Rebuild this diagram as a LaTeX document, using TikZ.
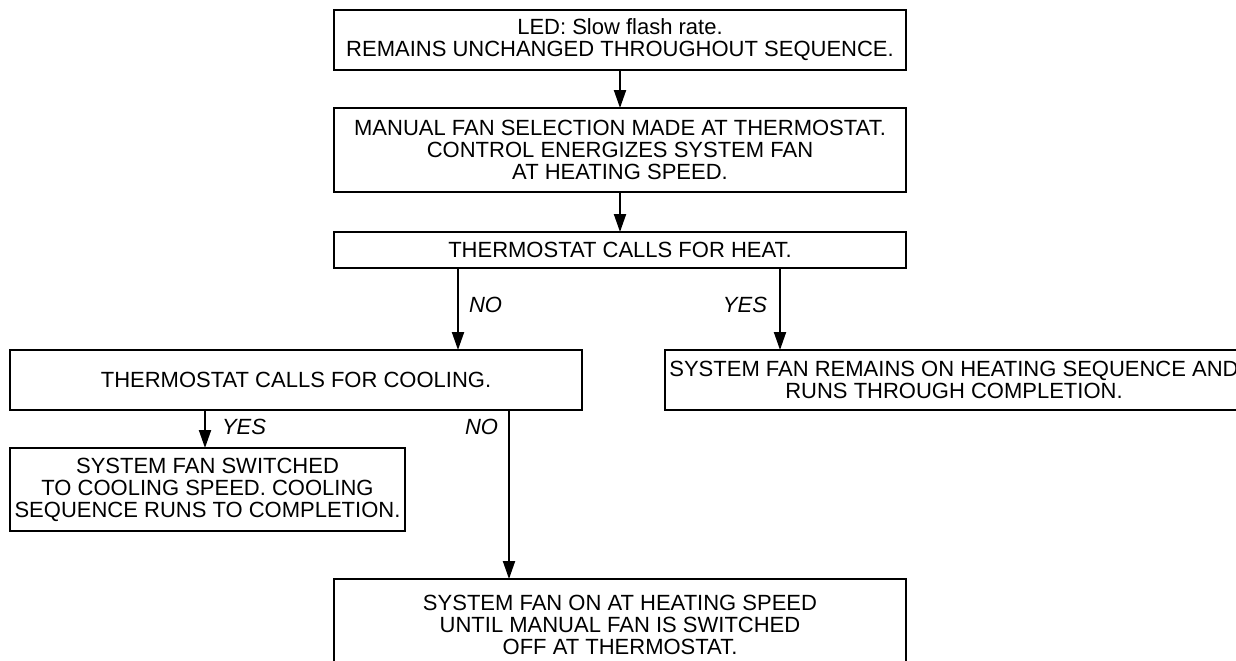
\documentclass[tikz,border=0pt]{standalone}
\usepackage{fontspec}
\setmainfont{Liberation Sans}
\usetikzlibrary{positioning,arrows.meta}

\begin{document}
\begin{tikzpicture}[
    x=0.5pt, y=-0.5pt,
    flowbox/.style={draw, line width=1.1pt, minimum width=286pt, inner sep=2pt, outer sep=0pt,
                    align=center, font=\fontsize{11}{11}\selectfont},
    arr/.style={-{Triangle[length=9pt, width=6pt]}, line width=1pt},
    lbl/.style={font=\fontsize{11}{11}\selectfont\itshape, inner sep=0pt},
]
\useasboundingbox (0,0) rectangle (1236,660);
\clip (0,0) rectangle (1236,660);

\node[flowbox, minimum height=30pt] (b1) at (620,40) {LED: Slow flash rate.\\REMAINS UNCHANGED THROUGHOUT SEQUENCE.};
\node[flowbox, minimum height=42pt, below=19pt of b1] (b2) {MANUAL FAN SELECTION MADE AT THERMOSTAT.\\CONTROL ENERGIZES SYSTEM FAN\\AT HEATING SPEED.};
\node[flowbox, minimum height=18pt, below=20pt of b2] (b3) {THERMOSTAT CALLS FOR HEAT.};
\node[flowbox, minimum height=30pt, below=41pt of b3, xshift=-162pt] (b4) {THERMOSTAT CALLS FOR COOLING.};
\node[flowbox, minimum height=30pt, below=41pt of b3, xshift=167pt] (b5) {SYSTEM FAN REMAINS ON HEATING SEQUENCE AND\\RUNS THROUGH COMPLETION.};
\node[flowbox, minimum width=197.5pt, minimum height=41.5pt, below=19pt of b4.south west, anchor=north west] (b6) {SYSTEM FAN SWITCHED\\TO COOLING SPEED. COOLING\\SEQUENCE RUNS TO COMPLETION.};
\node[flowbox, minimum height=46pt, below=84.5pt of b4, xshift=162pt] (b7) {SYSTEM FAN ON AT HEATING SPEED\\UNTIL MANUAL FAN IS SWITCHED\\OFF AT THERMOSTAT.};

\draw[arr] (b1) -- (b2);
\draw[arr] (b2) -- (b3);
\draw[arr] ([xshift=-81pt]b3.south) -- ([xshift=-81pt]b3.south |- b4.north)
    node[lbl, pos=0.45, right=5pt] (no1) {NO};
\draw[arr] ([xshift=80pt]b3.south) -- ([xshift=80pt]b3.south |- b5.north)
    node[lbl, pos=0.45, left=6pt] (yes1) {YES};
\draw[arr] ([xshift=-45.5pt]b4.south) -- ([xshift=-45.5pt]b4.south |- b6.north)
    node[lbl, pos=0.45, right=8pt] (yes2) {YES};
\draw[arr] ([xshift=106.5pt]b4.south) -- ([xshift=106.5pt]b4.south |- b7.north)
    node[lbl, pos=0.1, left=5pt] (no2) {NO};
\end{tikzpicture}
\end{document}
